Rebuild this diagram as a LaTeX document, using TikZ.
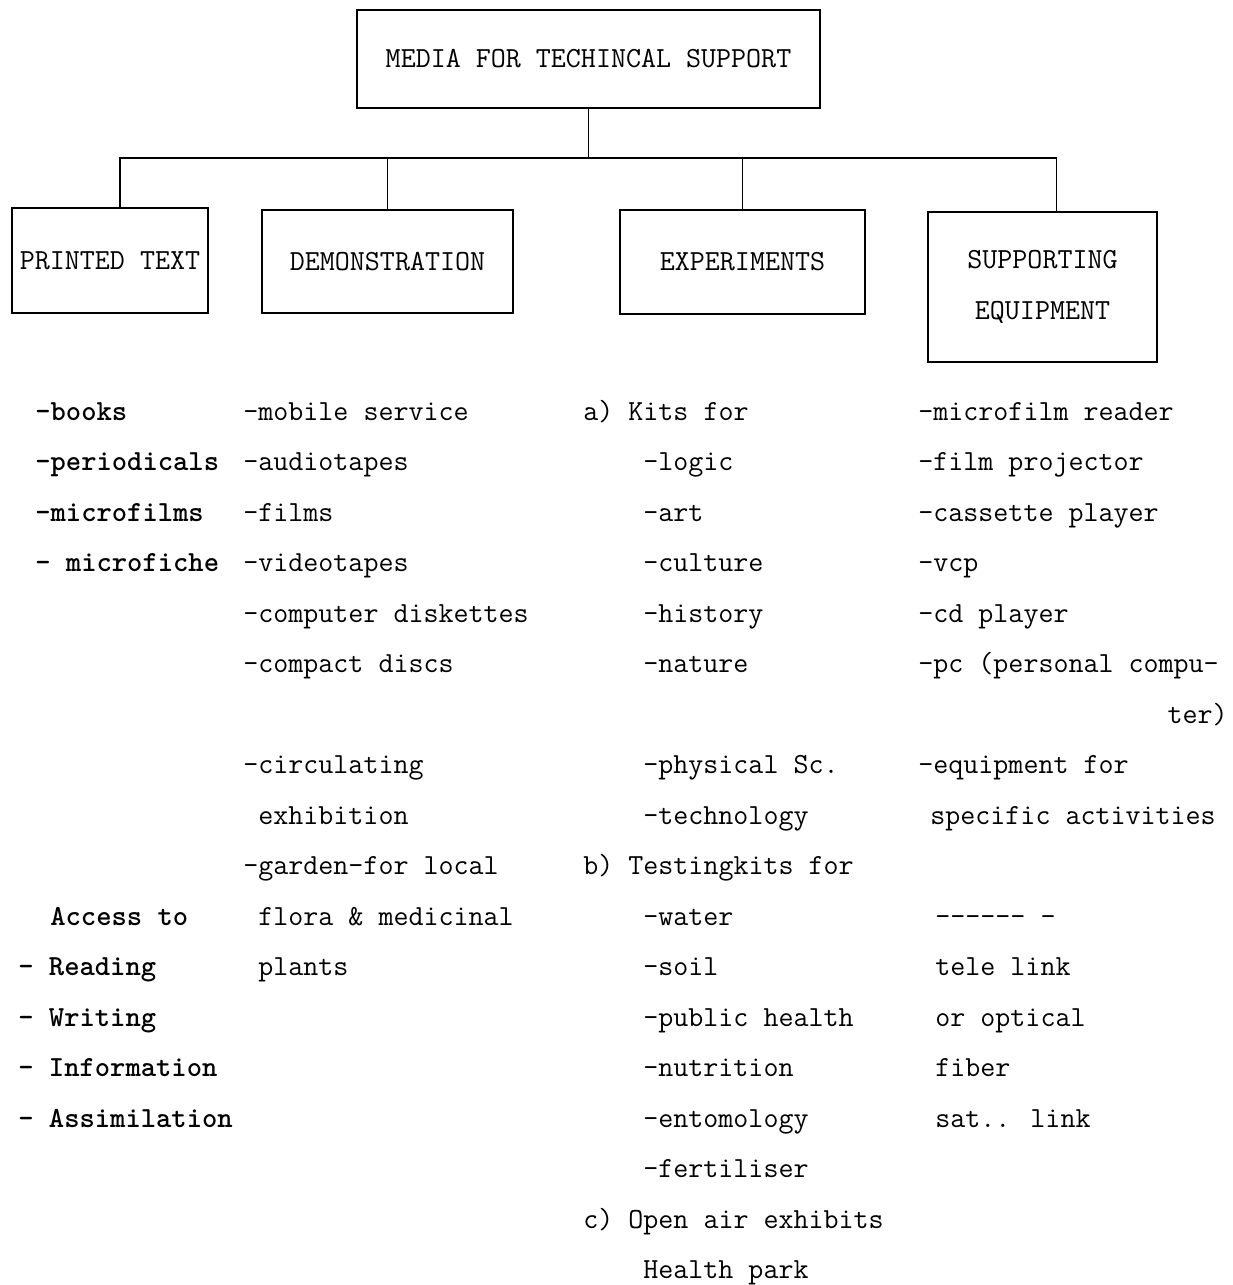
\documentclass[tikz,border=0pt]{standalone}
\usepackage{fontspec}
\usepackage{tikz}
\newcommand{\typefont}{\ttfamily\fontsize{16.6}{19}\selectfont}

\begin{document}
\begin{tikzpicture}[
    x=0.02cm, y=-0.02cm,
    box/.style={draw, line width=0.8pt, inner sep=0pt, font=\typefont, align=center},
    item/.style={anchor=base west, inner sep=0pt, font=\typefont},
    heavy/.style={item, font=\typefont\bfseries},
    link/.style={line width=0.8pt}
]
\useasboundingbox (0,0) rectangle (1233,1285);

% Boxes
\node[box, minimum width=9.26cm, minimum height=1.96cm] (media) at (588.5,59) {MEDIA FOR TECHINCAL SUPPORT};
\node[box, minimum width=3.92cm, minimum height=2.10cm] (printed) at (110,260.5) {PRINTED TEXT};
\node[box, minimum width=5.02cm, minimum height=2.06cm] (demo) at (387.5,261.5) {DEMONSTRATION};
\node[box, minimum width=4.90cm, minimum height=2.08cm] (exp) at (742.5,262) {EXPERIMENTS};
\node[box, minimum width=4.58cm, minimum height=3.00cm, font=\ttfamily\fontsize{16.6}{28.7}\selectfont] (supp) at (1042.5,287) {SUPPORTING\\EQUIPMENT};

% Connectors
\coordinate (bus) at (0,158);
\draw[link] (media.south) -- (media.south |- bus);
\draw[link] ([xshift=0.2cm]printed.north) -- ([xshift=0.2cm]printed.north |- bus) -| ([xshift=0.28cm]supp.north);
\draw[link] (demo.north) -- (demo.north |- bus);
\draw[link] (exp.north) -- (exp.north |- bus);

% Printed text
\foreach \txt [count=\i] in {-books, -periodicals, -microfilms, - microfiche}
  \node[heavy] (printed\i) at (35,{420+50.5*(\i-1)}) {\txt};
\node[heavy] (access) at (50,925) {Access to};
\foreach \txt [count=\i] in {- Reading, - Writing, - Information, - Assimilation}
  \node[heavy] (access\i) at (18,{925+50.5*\i}) {\txt};

% Demonstration
\foreach \txt [count=\i] in {-mobile service, -audiotapes, -films, -videotapes, -computer diskettes, -compact discs}
  \node[item] (demo\i) at (243,{420+50.5*(\i-1)}) {\txt};
\node[item] (circ) at (243,773.5) {-circulating};
\node[item] (exhib) at (258,824) {exhibition};
\node[item] (garden) at (243,874.5) {-garden-for local};
\node[item] (flora) at (258,925) {flora \& medicinal};
\node[item] (plants) at (258,975.5) {plants};

% Experiments
\node[item] (kits) at (583,420) {a) Kits for};
\foreach \txt [count=\i] in {-logic, -art, -culture, -history, -nature}
  \node[item] (kits\i) at (643,{420+50.5*\i}) {\txt};
\node[item] (phys) at (643,773.5) {-physical Sc.};
\node[item] (techno) at (643,824) {-technology};
\node[item] (testkits) at (583,874.5) {b) Testingkits for};
\foreach \txt [count=\i] in {-water, -soil, -public health, -nutrition, -entomology, -fertiliser}
  \node[item] (test\i) at (643,{874.5+50.5*\i}) {\txt};
\node[item] (openair) at (583,1228) {c) Open air exhibits};
\node[item] (park) at (643,1278.5) {Health park};

% Supporting equipment
\foreach \txt [count=\i] in {-microfilm reader, -film projector, -cassette player, -vcp, -cd player, -pc (personal compu-}
  \node[item] (supp\i) at (918,{420+50.5*(\i-1)}) {\txt};
\node[item, anchor=base east] (ter) at (1228,723) {ter)};
\node[item] (equip) at (918,773.5) {-equipment for};
\node[item] (specific) at (930,824) {specific activities};
\node[item] (rule) at (935,925) {-{}-{}-{}-{}-{}- -};
\foreach \txt [count=\i] in {tele link, or optical, fiber, sat.. link}
  \node[item] (link\i) at (935,{925+50.5*\i}) {\txt};

\end{tikzpicture}
\end{document}
